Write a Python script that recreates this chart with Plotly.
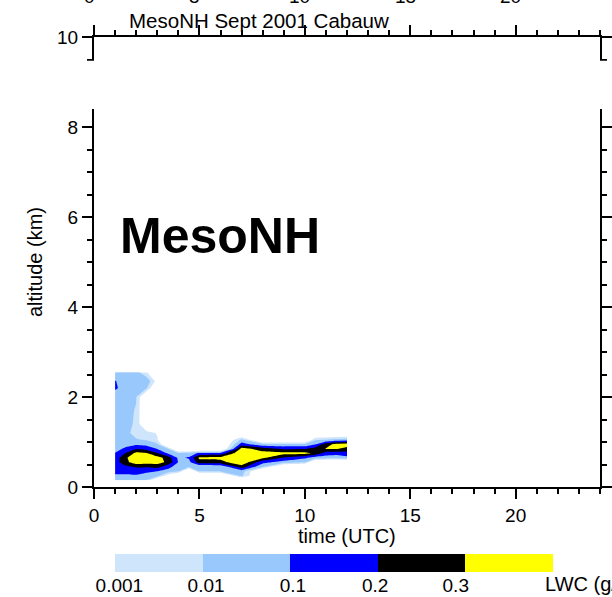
import numpy as np
import plotly.graph_objects as go

# MesoNH liquid water content (g/kg) over Cabauw, September 2001
time_utc = [1, 1.5, 2, 2.5, 3, 3.5, 4, 4.5, 5, 6, 7, 8, 9, 10, 10.5, 11, 11.5, 12]
altitude_km = [0.15, 0.25, 0.35, 0.45, 0.55, 0.65, 0.75, 0.85, 0.95, 1.05,
               1.2, 1.4, 1.7, 2.0, 2.2, 2.35, 2.55]

# one vertical profile (bottom -> top) per output time
lwc_profiles = [
    [0.032, 0.071, 0.13, 0.145, 0.15, 0.14, 0.105, 0.04, 0.025, 0.022, 0.02, 0.02, 0.02, 0.032, 0.115, 0.105, 0.032],
    [0.032, 0.071, 0.13, 0.18, 0.27, 0.28, 0.205, 0.12, 0.04, 0.025, 0.02, 0.016, 0.016, 0.02, 0.04, 0.04, 0.032],
    [0.025, 0.079, 0.14, 0.215, 0.48, 0.57, 0.39, 0.19, 0.063, 0.0126, 0.004, 0.0079, 0.0089, 0.0112, 0.04, 0.04, 0.025],
    [0.0089, 0.04, 0.12, 0.21, 0.45, 0.54, 0.33, 0.16, 0.05, 0.0079, 0.0032, 0, 0, 0, 0.0126, 0.063, 0.0012],
    [0, 0.032, 0.1, 0.24, 0.42, 0.42, 0.21, 0.089, 0.016, 0.0013, 0.0008, 0, 0, 0, 0, 0.0003, 0],
    [0, 0.0002, 0.05, 0.13, 0.28, 0.26, 0.079, 0.0112, 0, 0, 0, 0, 0, 0, 0, 0, 0],
    [0, 0, 0.0112, 0.04, 0.089, 0.063, 0.016, 0, 0, 0, 0, 0, 0, 0, 0, 0, 0],
    [0, 0, 0, 0.0126, 0.05, 0.11, 0.025, 0, 0, 0, 0, 0, 0, 0, 0, 0, 0],
    [0, 0, 0.0112, 0.0112, 0.26, 0.36, 0.12, 0, 0, 0, 0, 0, 0, 0, 0, 0, 0],
    [0, 0, 0.0126, 0.016, 0.26, 0.39, 0.13, 0, 0, 0, 0, 0, 0, 0, 0, 0, 0],
    [0, 0.016, 0.032, 0.26, 0.54, 0.6, 0.57, 0.42, 0.15, 0.018, 0, 0, 0, 0, 0, 0, 0],
    [0, 0, 0, 0.0126, 0.13, 0.36, 0.42, 0.25, 0.016, 0, 0, 0, 0, 0, 0, 0, 0],
    [0, 0, 0, 0, 0.04, 0.19, 0.39, 0.18, 0.016, 0, 0, 0, 0, 0, 0, 0, 0],
    [0, 0, 0, 0, 0.0112, 0.12, 0.39, 0.19, 0.016, 0, 0, 0, 0, 0, 0, 0, 0],
    [0, 0, 0, 0, 0, 0.032, 0.28, 0.24, 0.089, 0.0079, 0, 0, 0, 0, 0, 0, 0],
    [0, 0, 0, 0, 0, 0.032, 0.15, 0.315, 0.26, 0.0112, 0, 0, 0, 0, 0, 0, 0],
    [0, 0, 0, 0, 0, 0.025, 0.14, 0.33, 0.39, 0.025, 0, 0, 0, 0, 0, 0, 0],
    [0, 0, 0, 0, 0, 0.05, 0.16, 0.27, 0.45, 0.032, 0, 0, 0, 0, 0, 0, 0],
]

lwc_levels = [0.001, 0.01, 0.1, 0.2, 0.3]
lwc_level_labels = ["0.001", "0.01", "0.1", "0.2", "0.3"]
level_colors = ["#cfe5fb", "#99c8fc", "#0000ff", "#000000", "#ffff00"]
upper_panel_ticks = [0, 5, 10, 15, 20]


def level_index(v):
    """Map LWC onto a uniform level index (0.001->1, 0.01->2, 0.1->3, 0.2->4, 0.3->5)."""
    v = np.asarray(v, dtype=float)
    low = np.log10(np.clip(v, 1e-5, 0.1)) + 4.0
    high = np.interp(v, [0.1, 0.2, 0.3, 0.6], [3.0, 4.0, 5.0, 6.0])
    return np.where(v <= 0.1, low, high)


z_index = level_index(np.array(lwc_profiles).T)
lev_idx = level_index(lwc_levels)

# six fill bands: below first level (white) + one per level
band_colors = ["#ffffff"] + level_colors
n = len(band_colors)
contour_scale = []
for i, c in enumerate(band_colors):
    lo = max(0.0, (i - 0.5) / (n - 1))
    hi = min(1.0, (i + 0.5) / (n - 1))
    contour_scale += [[lo, c], [hi, c]]

bar_scale = []
m = len(level_colors)
for i, c in enumerate(level_colors):
    bar_scale += [[i / m, c], [(i + 1) / m, c]]

# label anchors along the bar, slightly inside each box's left edge
bar_label_pos = [-0.45, 0.54, 1.53, 2.47, 3.39]

FONT = "Liberation Sans, Arial, Helvetica, sans-serif"
tick_font = dict(family=FONT, size=19, color="black")
W, H = 612, 597

fig = go.Figure()
fig.add_trace(go.Contour(
    x=time_utc, y=altitude_km, z=z_index,
    autocontour=False,
    contours=dict(start=float(lev_idx[0]), end=float(lev_idx[-1]), size=1.0,
                  coloring="fill", showlines=False),
    line=dict(width=0, smoothing=0),
    colorscale=contour_scale, showscale=False, hoverinfo="skip",
))

# label bar for the LWC levels
fig.add_trace(go.Heatmap(
    x=list(range(len(level_colors))), y=[0], z=[list(range(len(level_colors)))],
    colorscale=bar_scale, zmin=-0.5, zmax=len(level_colors) - 0.5,
    showscale=False, xaxis="x2", yaxis="y2", hoverinfo="skip",
))

axis_common = dict(
    ticks="outside", ticklen=10, tickwidth=2, tickcolor="black",
    showline=True, linewidth=2, linecolor="black", mirror="ticks",
    showgrid=False, zeroline=False, tickfont=tick_font, tickmode="linear", tick0=0,
    automargin=False,
)

fig.update_layout(
    width=W, height=H, margin=dict(l=0, r=0, t=0, b=0, pad=0, autoexpand=False),
    paper_bgcolor="white", plot_bgcolor="white", showlegend=False,
    xaxis=dict(domain=[94 / W, 600 / W], range=[0, 24], dtick=5,
               minor=dict(dtick=1, ticks="outside", ticklen=5, tickwidth=2,
                          tickcolor="black", showgrid=False),
               **axis_common),
    yaxis=dict(domain=[1 - 487 / H, 1 - 37 / H], range=[0, 10], dtick=2,
               minor=dict(dtick=0.5, ticks="outside", ticklen=5, tickwidth=2,
                          tickcolor="black", showgrid=False),
               **axis_common),
    xaxis2=dict(domain=[115 / W, 553 / W], anchor="y2", range=[-0.5, len(level_colors) - 0.5],
                tickmode="array", tickvals=bar_label_pos,
                ticktext=lwc_level_labels, ticks="", showline=False, showgrid=False,
                zeroline=False, tickfont=tick_font, automargin=False),
    yaxis2=dict(domain=[1 - 572 / H, 1 - 554 / H], anchor="x2", range=[-0.5, 0.5],
                visible=False, automargin=False),
)

# break in the frame between the two stacked altitude ranges
fig.add_shape(type="rect", xref="paper", yref="y", x0=60 / W, x1=1.0, y0=8.4, y1=9.47,
              fillcolor="white", line_width=0, layer="above")

ann = []
ann.append(dict(text="MesoNH Sept 2001 Cabauw", xref="paper", yref="paper",
                x=127 / W, y=1 - 20 / H, xanchor="left", yanchor="middle",
                showarrow=False, font=dict(family=FONT, size=20.5, color="black")))
for v in upper_panel_ticks:
    ann.append(dict(text=str(v), xref="x", yref="paper", x=v, y=1 + 4 / H,
                    xanchor="center", yanchor="middle", xshift=-5, showarrow=False,
                    font=tick_font))
ann.append(dict(text="MesoNH", xref="x", yref="y", x=1.15, y=5.58,
                xanchor="left", yanchor="middle", showarrow=False,
                font=dict(family=FONT, size=50, color="black", weight="bold")))
ann.append(dict(text="altitude (km)", xref="paper", yref="paper", x=35 / W, y=1 - 262 / H,
                xanchor="center", yanchor="middle", textangle=-90, showarrow=False,
                font=dict(family=FONT, size=20, color="black")))
ann.append(dict(text="time (UTC)", xref="x", yref="paper", x=12, y=1 - 536 / H,
                xanchor="center", yanchor="middle", showarrow=False,
                font=dict(family=FONT, size=20, color="black")))
ann.append(dict(text="LWC (g/kg)", xref="paper", yref="paper", x=543 / W, y=1 - 584 / H,
                xanchor="left", yanchor="middle", showarrow=False,
                font=dict(family=FONT, size=20, color="black")))
fig.update_layout(annotations=ann)

fig.write_html("out.html")
